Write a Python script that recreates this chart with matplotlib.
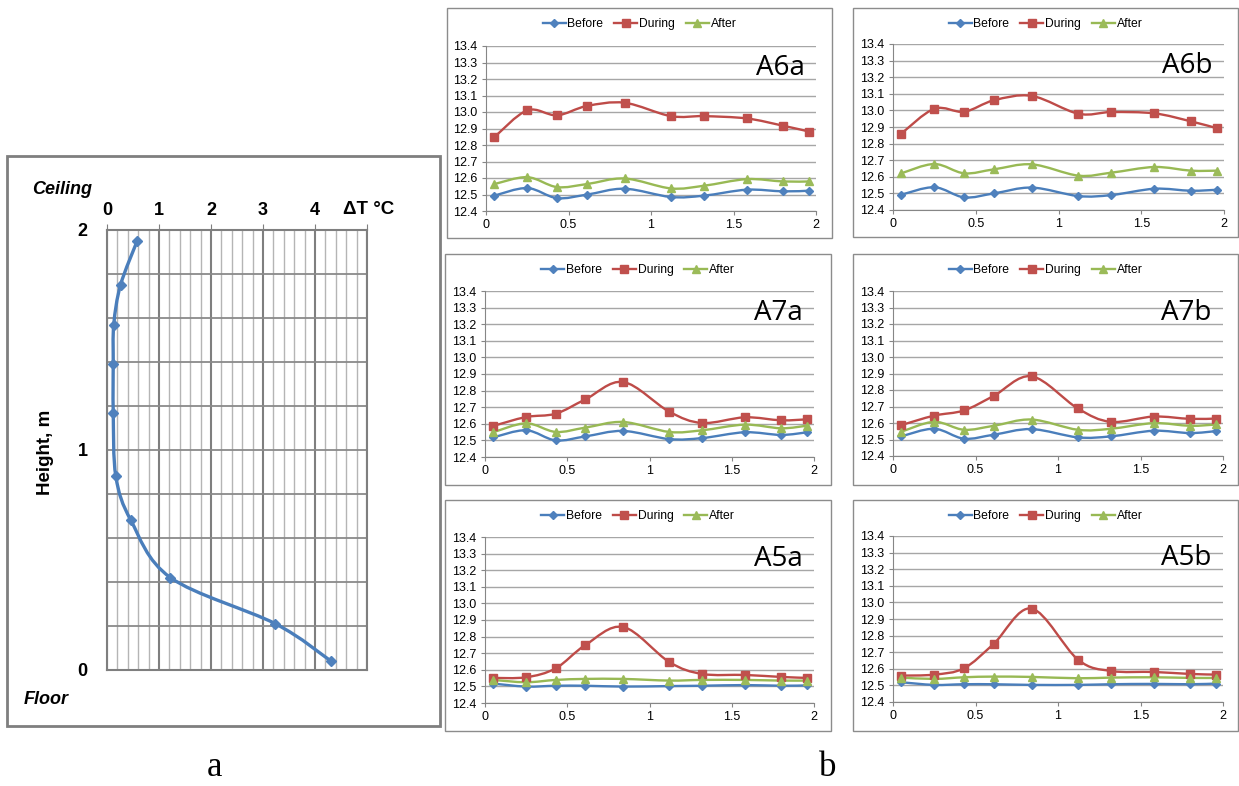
import numpy as np
import matplotlib
matplotlib.use("Agg")
import matplotlib.pyplot as plt
from matplotlib.path import Path
from matplotlib.patches import PathPatch, Rectangle
from matplotlib.lines import Line2D
from matplotlib.ticker import MultipleLocator

plt.rcParams['font.family'] = ['Liberation Sans', 'DejaVu Sans']

# panel a: vertical temperature profile
dT = [0.58, 0.26, 0.13, 0.12, 0.12, 0.17, 0.46, 1.22, 3.24, 4.31]
height = [1.95, 1.75, 1.57, 1.39, 1.17, 0.88, 0.68, 0.42, 0.21, 0.04]

# panel b: temperatures along distance
dist = [0.05, 0.25, 0.43, 0.61, 0.84, 1.12, 1.32, 1.58, 1.80, 1.96]

a6a_before = [12.493, 12.539, 12.478, 12.499, 12.535, 12.485, 12.493, 12.529, 12.519, 12.523]
a6a_during = [12.847, 13.010, 12.980, 13.036, 13.056, 12.975, 12.975, 12.961, 12.917, 12.881]
a6a_after = [12.563, 12.605, 12.545, 12.563, 12.597, 12.537, 12.553, 12.593, 12.579, 12.579]

a6b_before = [12.492, 12.537, 12.476, 12.500, 12.535, 12.484, 12.490, 12.528, 12.516, 12.522]
a6b_during = [12.860, 13.010, 12.992, 13.061, 13.087, 12.980, 12.990, 12.982, 12.934, 12.892]
a6b_after = [12.621, 12.677, 12.621, 12.645, 12.675, 12.607, 12.625, 12.659, 12.637, 12.637]

a7a_before = [12.518, 12.561, 12.500, 12.524, 12.557, 12.508, 12.514, 12.549, 12.533, 12.549]
a7a_during = [12.587, 12.641, 12.661, 12.747, 12.852, 12.673, 12.605, 12.639, 12.621, 12.627]
a7a_after = [12.549, 12.603, 12.551, 12.577, 12.611, 12.551, 12.561, 12.595, 12.573, 12.589]

a7b_before = [12.519, 12.565, 12.505, 12.529, 12.563, 12.513, 12.519, 12.553, 12.539, 12.551]
a7b_during = [12.587, 12.645, 12.676, 12.764, 12.883, 12.688, 12.607, 12.639, 12.625, 12.627]
a7b_after = [12.547, 12.607, 12.559, 12.583, 12.621, 12.559, 12.565, 12.599, 12.583, 12.591]

a5a_before = [12.517, 12.499, 12.504, 12.504, 12.499, 12.502, 12.504, 12.508, 12.504, 12.506]
a5a_during = [12.551, 12.555, 12.609, 12.749, 12.858, 12.647, 12.575, 12.569, 12.557, 12.551]
a5a_after = [12.539, 12.525, 12.539, 12.545, 12.545, 12.535, 12.539, 12.539, 12.535, 12.535]

a5b_before = [12.519, 12.503, 12.507, 12.507, 12.503, 12.503, 12.507, 12.509, 12.507, 12.511]
a5b_during = [12.559, 12.565, 12.603, 12.750, 12.963, 12.656, 12.587, 12.581, 12.569, 12.565]
a5b_after = [12.547, 12.539, 12.549, 12.553, 12.551, 12.543, 12.547, 12.549, 12.545, 12.545]

series_names = ["Before", "During", "After"]
line_colors = ["#4A7EBB", "#BE4B48", "#98B954"]
marker_colors = ["#4F81BD", "#C0504D", "#9BBB59"]
markers = ["D", "s", "^"]
msizes = [3.6, 5.2, 5.2]

W, H = 1239, 786
fig = plt.figure(figsize=(W / 100, H / 100), dpi=100)


def px(x0, y0, x1, y1):
    return [x0 / W, 1 - y1 / H, (x1 - x0) / W, (y1 - y0) / H]


def ftext(x, y, s, **kw):
    fig.text(x / W, 1 - y / H, s, **kw)


def box(x0, y0, x1, y1, lw=1, color="#8c8c8c"):
    fig.patches.append(Rectangle((x0 / W, 1 - y1 / H), (x1 - x0) / W, (y1 - y0) / H,
                                 transform=fig.transFigure, fill=False,
                                 edgecolor=color, linewidth=lw))


def smooth_path(x, y):
    # Excel style smoothed line: cubic bezier through the points
    pts = np.column_stack([x, y])
    n = len(pts)
    verts = [pts[0]]
    codes = [Path.MOVETO]
    for i in range(n - 1):
        p0 = pts[max(i - 1, 0)]
        p1 = pts[i]
        p2 = pts[i + 1]
        p3 = pts[min(i + 2, n - 1)]
        verts += [p1 + (p2 - p0) / 6, p2 - (p3 - p1) / 6, p2]
        codes += [Path.CURVE4] * 3
    return Path(verts, codes)


# ---------- panel a ----------
box(7, 156, 440, 726, lw=2, color="#7f7f7f")
ax = fig.add_axes(px(107, 230, 367, 670))
ax.add_patch(PathPatch(smooth_path(dT, height), fill=False, edgecolor="#4A7EBB",
                       linewidth=2.4, capstyle="round", joinstyle="round", zorder=3))
ax.plot(dT, height, ls="none", marker="D", ms=5, color="#4F81BD", zorder=4)
ax.set_xlim(0, 5)
ax.set_ylim(0, 2)
ax.set_xticks(np.arange(0, 5.01, 1))
ax.set_xticklabels(["0", "1", "2", "3", "4", ""])
ax.xaxis.set_minor_locator(MultipleLocator(0.2))
ax.set_yticks([0, 1, 2])
ax.yaxis.set_minor_locator(MultipleLocator(0.2))
ax.xaxis.tick_top()
ax.tick_params(axis="x", which="major", length=4, color="#7f7f7f", pad=4,
               labelsize=13)
ax.tick_params(axis="x", which="minor", length=0)
ax.tick_params(axis="y", which="both", length=0, pad=14, labelsize=13)
for lab in ax.get_xticklabels() + ax.get_yticklabels():
    lab.set_fontweight("bold")
ax.grid(which="minor", axis="x", color="#b5b5b5", linewidth=1.0)
ax.grid(which="major", axis="x", color="#7f7f7f", linewidth=1.5)
ax.grid(which="both", axis="y", color="#8a8a8a", linewidth=1.3)
ax.set_axisbelow(True)
for sp in ax.spines.values():
    sp.set_color("#7f7f7f")
    sp.set_linewidth(1.5)
ftext(343, 210, "ΔT °C", fontsize=13.5, fontweight="bold", ha="left", va="center")
ftext(32, 190, "Ceiling", fontsize=13, fontweight="bold", style="italic",
      ha="left", va="center")
ftext(24, 700, "Floor", fontsize=13, fontweight="bold", style="italic",
      ha="left", va="center")
ftext(45, 452, "Height, m", fontsize=13.5, fontweight="bold", rotation=90,
      ha="center", va="center")
ftext(214, 768, "a", fontsize=25, family="Liberation Serif", ha="center", va="center")
ftext(828, 768, "b", fontsize=25, family="Liberation Serif", ha="center", va="center")

# ---------- panel b ----------
panels = [
    ("A6a", a6a_before, a6a_during, a6a_after, (486, 46, 816, 211), (447, 8, 832, 238)),
    ("A6b", a6b_before, a6b_during, a6b_after, (893, 44, 1224, 210), (853, 8, 1238, 237)),
    ("A7a", a7a_before, a7a_during, a7a_after, (485, 291, 814, 457), (445, 254, 831, 485)),
    ("A7b", a7b_before, a7b_during, a7b_after, (893, 291, 1223, 456), (853, 254, 1238, 485)),
    ("A5a", a5a_before, a5a_during, a5a_after, (485, 537, 814, 703), (445, 500, 831, 731)),
    ("A5b", a5b_before, a5b_during, a5b_after, (893, 536, 1223, 702), (853, 500, 1238, 731)),
]

for name, before, during, after, area, frame in panels:
    box(*frame)
    ax = fig.add_axes(px(*area))
    for vals, lc, mc, mk, ms in zip([before, during, after], line_colors,
                                    marker_colors, markers, msizes):
        ax.add_patch(PathPatch(smooth_path(dist, vals), fill=False, edgecolor=lc,
                               linewidth=1.7, capstyle="round", joinstyle="round",
                               zorder=3))
        ax.plot(dist, vals, ls="none", marker=mk, ms=ms, color=mc, zorder=4)
    ax.set_xlim(0, 2)
    ax.set_ylim(12.4, 13.4)
    ax.set_xticks([0, 0.5, 1, 1.5, 2])
    ax.set_xticklabels(["0", "0.5", "1", "1.5", "2"])
    ax.set_yticks(np.round(np.arange(12.4, 13.41, 0.1), 1))
    ax.set_yticklabels([f"{v:.1f}" for v in np.arange(12.4, 13.41, 0.1)])
    ax.tick_params(length=3, color="#868686", labelsize=9, pad=3)
    ax.grid(axis="y", color="#a6a6a6", linewidth=1.0)
    ax.set_axisbelow(True)
    for s in ["top", "right"]:
        ax.spines[s].set_visible(False)
    for s in ["left", "bottom"]:
        ax.spines[s].set_color("#868686")
    ax.text(0.965, 0.865, name, transform=ax.transAxes, ha="right", va="center",
            fontsize=20, family="Open Sans")
    handles = [Line2D([], [], color=lc, lw=1.7, marker=mk, ms=ms, mfc=mc, mec=mc)
               for lc, mc, mk, ms in zip(line_colors, marker_colors, markers, msizes)]
    cx = (frame[0] + frame[2]) / 2
    ax.legend(handles, series_names, loc="center", ncol=3, frameon=False,
              fontsize=8.7, handlelength=1.9, handletextpad=0.15, columnspacing=0.9,
              bbox_to_anchor=(cx / W, 1 - (frame[1] + 16) / H),
              bbox_transform=fig.transFigure)

fig.savefig("out.png", dpi=100)
